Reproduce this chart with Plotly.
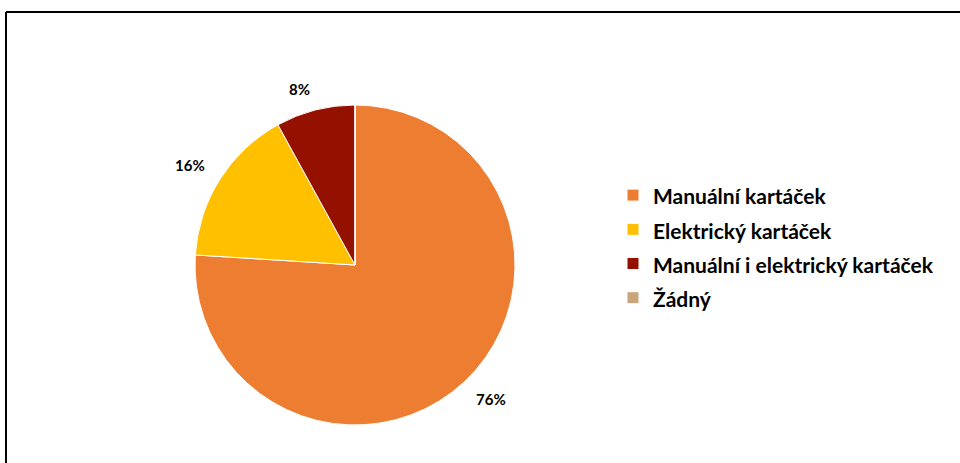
import math
import plotly.graph_objects as go

categories = ["Manuální kartáček", "Elektrický kartáček", "Manuální i elektrický kartáček", "Žádný"]
shares = [76, 16, 8, 0]
colors = ["#ED7D31", "#FFC000", "#941100", "#C9A57A"]

W, H = 960, 463
CX, CY, R = 355, 265, 160          # pie centre and radius in pixels
LABEL_R = 176                      # distance of the label's inner corner
HALF_TEXT = 6                      # half the height of a label's glyphs

legend_names = [f"<span style='font-size:21px'>{c}</span>" for c in categories]

fig = go.Figure(
    go.Pie(
        labels=legend_names,
        values=shares,
        textinfo="none",
        marker=dict(colors=colors, line=dict(color="white", width=1)),
        sort=False,
        direction="clockwise",
        rotation=0,
        hoverinfo="label+percent",
        domain=dict(x=[(CX - R) / W, (CX + R) / W],
                    y=[(H - CY - R) / H, (H - CY + R) / H]),
    )
)

# percentage labels outside each slice, placed at the slice's mid angle
total = sum(shares)
cum = 0
for v in shares:
    if v:
        mid = (cum + v / 2) / total * 2 * math.pi
        s, c = math.sin(mid), math.cos(mid)
        px = CX + LABEL_R * s
        py = CY - LABEL_R * c
        fig.add_annotation(
            x=px / W, y=(H - py) / H, xref="paper", yref="paper",
            text=f"{v}%", showarrow=False,
            xanchor="left" if s >= 0 else "right",
            yanchor="middle",
            yshift=HALF_TEXT if c >= 0 else -HALF_TEXT,
            borderpad=0,
            font=dict(family="Lato", size=15, color="black", weight="bold"),
        )
    cum += v

# frame around the chart area
fig.add_shape(type="line", xref="paper", yref="paper",
              x0=6 / W, x1=1.02, y0=(H - 12) / H, y1=(H - 12) / H,
              line=dict(color="black", width=2))
fig.add_shape(type="line", xref="paper", yref="paper",
              x0=6 / W, x1=6 / W, y0=-0.02, y1=(H - 12) / H,
              line=dict(color="black", width=2))

fig.update_layout(
    width=W, height=H,
    margin=dict(l=0, r=0, t=0, b=0),
    paper_bgcolor="white",
    plot_bgcolor="white",
    showlegend=True,
    legend=dict(
        x=613 / W, xanchor="left",
        y=(H - 173) / H, yanchor="top",
        font=dict(family="Lato", size=24, color="black", weight="bold"),
        bgcolor="rgba(0,0,0,0)",
    ),
)

fig.write_html("out.html")
